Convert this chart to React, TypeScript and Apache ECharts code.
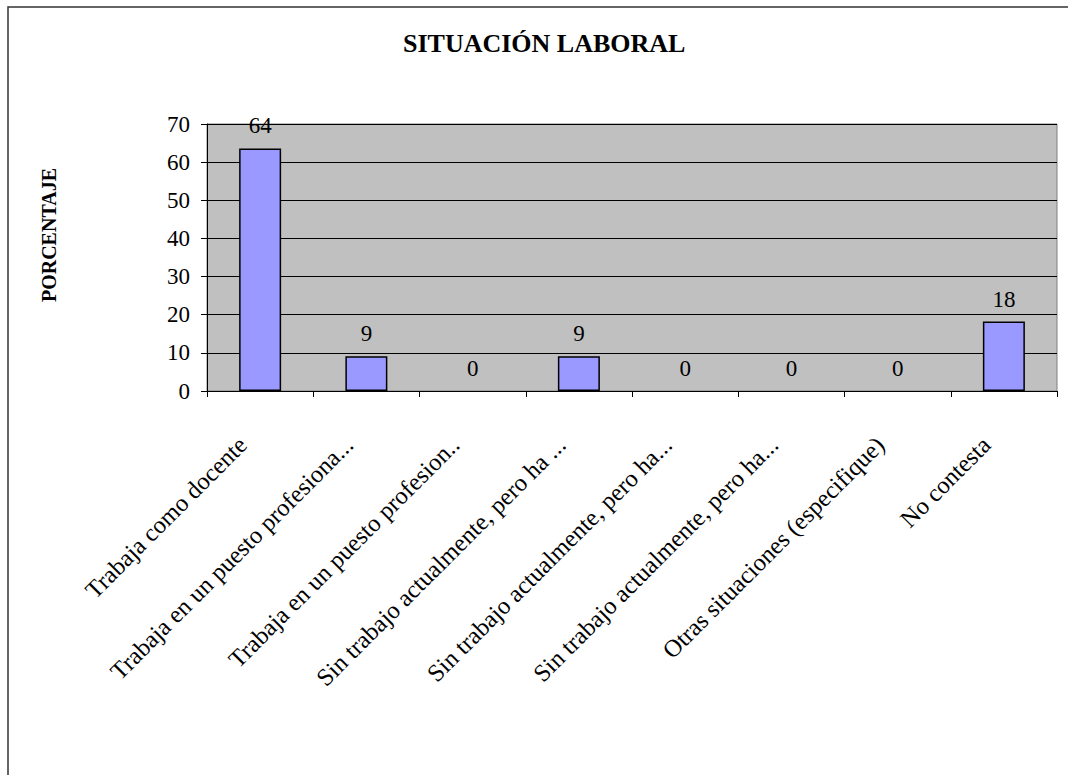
import React, { useEffect, useRef } from "react";
import * as echarts from "echarts";

const categories = [
  "Trabaja como docente",
  "Trabaja en un puesto profesiona...",
  "Trabaja en un puesto profesion..",
  "Sin trabajo actualmente, pero ha ...",
  "Sin trabajo actualmente, pero ha...",
  "Sin trabajo actualmente, pero ha...",
  "Otras situaciones (especifique)",
  "No contesta",
];
const values = [63.6, 9.1, 0, 9.1, 0, 0, 0, 18.2];
const yTicks = { min: 0, max: 70, interval: 10 };
const title = "SITUACIÓN LABORAL";
const yName = "PORCENTAJE";

const FONT = "Liberation Serif";

export default function App() {
  const ref = useRef<HTMLDivElement>(null);
  useEffect(() => {
    if (!ref.current) return;
    const chart = echarts.init(ref.current, null, { renderer: "svg" });
    const barData = values.map((v) => ({
      value: v,
      itemStyle: v === 0 ? { borderWidth: 0, color: "transparent" } : undefined,
    }));
    chart.setOption({
      animation: false,
      backgroundColor: "#ffffff",
      textStyle: { fontFamily: FONT, color: "#000" },
      title: {
        text: title,
        left: 398,
        top: 25,
        textStyle: { fontFamily: FONT, fontSize: 26, fontWeight: "bold", color: "#000" },
      },
      graphic: [
        {
          type: "rect",
          shape: { x: 8, y: 7, width: 1200, height: 1000 },
          style: { fill: "none", stroke: "#333", lineWidth: 1.5 },
          silent: true,
        },
        {
          type: "text",
          x: 49,
          y: 235,
          rotation: Math.PI / 2,
          style: {
            text: yName,
            font: "bold 20px " + FONT,
            fill: "#000",
            align: "center",
            verticalAlign: "middle",
          },
        },
      ],
      grid: {
        left: 207,
        top: 124,
        right: 11,
        bottom: 384,
        show: true,
        backgroundColor: "#C0C0C0",
        borderColor: "#808080",
        borderWidth: 1,
      },
      xAxis: {
        type: "category",
        data: categories,
        boundaryGap: true,
        axisLine: { lineStyle: { color: "#000", width: 1 } },
        axisTick: { show: true, length: 6, interval: 0, lineStyle: { color: "#000" } },
        axisLabel: {
          interval: 0,
          rotate: 45,
          margin: 32,
          padding: [0, 25, 0, 0],
          fontFamily: FONT,
          fontSize: 24.5,
          color: "#000",
        },
        splitLine: { show: false },
      },
      yAxis: {
        type: "value",
        min: yTicks.min,
        max: yTicks.max,
        interval: yTicks.interval,
        axisLine: { show: true, lineStyle: { color: "#000", width: 1 } },
        axisTick: { show: true, length: 6, lineStyle: { color: "#000" } },
        axisLabel: { margin: 17, fontFamily: FONT, fontSize: 23, color: "#000" },
        splitLine: { show: true, lineStyle: { color: "#000", width: 1 } },
      },
      series: [
        {
          type: "bar",
          data: barData,
          barWidth: 42,
          itemStyle: { color: "#9999FF", borderColor: "#000", borderWidth: 1.5 },
          label: {
            show: true,
            position: "top",
            distance: 11,
            fontFamily: FONT,
            fontSize: 23,
            color: "#000",
            formatter: (p: any) => String(Math.round(p.value)),
          },
        },
      ],
    });
    return () => chart.dispose();
  }, []);
  return (
    <div
      ref={ref}
      style={{ position: "absolute", left: 0, top: 0, width: 1068, height: 775 }}
    />
  );
}
